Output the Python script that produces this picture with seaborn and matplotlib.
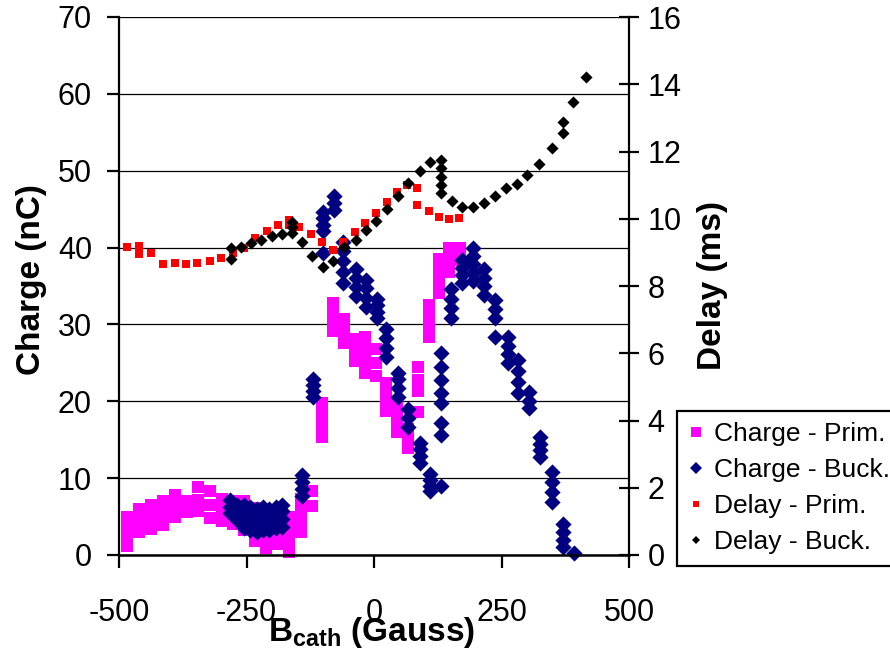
import numpy as np
import pandas as pd
import matplotlib
matplotlib.use("Agg")
import matplotlib.pyplot as plt
from matplotlib.lines import Line2D
import seaborn as sns

# ---------------- data ----------------
# Charge - Prim. (nC) : B values with charge values (several shots per B)
cp_B = ([-484]*4 + [-461]*3 + [-437]*3 + [-414]*3 + [-390]*3 + [-367]*2 + [-345]*3 +
        [-322]*3 + [-298]*3 + [-276]*3 + [-255]*4 + [-233]*4 + [-212]*4 + [-188]*4 +
        [-167]*4 + [-143]*4 + [-122]*2 + [-102]*4 + [-80]*4 + [-59]*3 + [-37]*3 +
        [-18]*4 + [4]*3 + [23]*4 + [45]*4 + [67]*3 + [86]*4 + [108]*4 + [127]*4 +
        [147]*3 + [168]*2)
cp_Q = [1.2, 2.4, 3.7, 4.9,   3.0, 4.5, 6.0,   3.4, 4.9, 6.5,   3.9, 5.4, 7.0,
        4.9, 6.3, 7.8,   5.6, 7.0,   5.7, 7.2, 8.8,   4.8, 6.5, 8.3,   4.4, 5.8, 7.3,
        4.0, 5.5, 7.0,   3.3, 4.5, 5.8, 7.0,   1.8, 3.2, 4.7, 6.1,   0.9, 2.3, 3.6, 5.0,
        1.4, 2.8, 4.1, 5.5,   0.4, 1.9, 3.4, 5.0,   3.0, 4.3, 5.7, 7.3,   6.4, 8.3,
        15.3, 16.8, 18.3, 19.8,   29.1, 30.3, 31.6, 32.8,   27.6, 29.1, 30.7,
        25.2, 26.6, 28.1,   23.7, 25.2, 26.8, 28.3,   23.3, 25.0, 26.8,
        18.7, 19.9, 21.2, 22.4,   16.0, 17.3, 18.5, 19.8,   13.9, 15.2, 16.4,
        18.6, 21.3, 22.8, 24.4,   28.3, 29.7, 31.1, 32.5,   34.1, 35.6, 37.0, 38.5,
        36.8, 38.4, 40.0,   38.4, 40.0]

# Charge - Buck. (nC)
cb_B = ([-283]*3 + [-268]*3 + [-255]*4 + [-243]*4 + [-230]*4 + [-218]*4 + [-205]*4 +
        [-193]*4 + [-180]*4 + [-141]*4 + [-120]*4 + [-100]*5 + [-78]*3 + [-61]*5 +
        [-35]*4 + [-16]*4 + [6]*4 + [24]*4 + [47]*4 + [67]*3 + [90]*4 + [110]*4 +
        [131]*8 + [151]*4 + [172]*4 + [194]*5 + [216]*4 + [237]*4 + [263]*4 +
        [282]*4 + [304]*3 + [325]*4 + [349]*4 + [371]*4 + [392])
cb_Q = [5.5, 6.3, 7.2,   4.5, 5.5, 6.5,   3.5, 4.5, 5.5, 6.5,   3.2, 4.2, 5.2, 6.3,
        3.0, 4.0, 5.0, 6.0,   3.3, 4.3, 5.3, 6.3,   3.2, 4.2, 5.2, 6.0,
        3.5, 4.5, 5.5, 6.3,   3.7, 4.7, 5.7, 6.5,   7.7, 8.6, 9.5, 10.4,
        20.5, 21.3, 22.1, 22.9,   39.3, 42.1, 43.0, 43.8, 44.6,   44.9, 45.8, 46.7,
        35.4, 36.8, 38.2, 39.5, 40.7,   33.7, 34.9, 36.0, 37.2,   32.3, 33.5, 34.7, 35.8,
        30.8, 31.6, 32.5, 33.3,   25.7, 26.9, 28.2, 29.4,   20.5, 21.7, 22.9, 23.7,
        16.6, 17.8, 19.0,   12.0, 12.9, 13.8, 14.6,   8.3, 9.0, 9.7, 10.5,
        9.0, 15.6, 17.2, 19.8, 21.1, 22.8, 24.4, 26.3,   30.8, 32.1, 33.3, 34.6,
        35.4, 36.4, 37.4, 38.4,   35.6, 36.7, 37.8, 38.9, 39.9,   33.8, 35.0, 36.1, 37.2,
        28.3, 30.8, 32.0, 33.2,   25.0, 26.1, 27.2, 28.3,   21.1, 22.5, 24.0, 25.4,
        19.1, 20.1, 21.2,   12.7, 13.6, 14.5, 15.3,   6.9, 8.2, 9.5, 10.8,
        1.0, 2.0, 3.0, 4.0,   0.3]

# Delay - Prim.
dp_B = [-484, -461, -461, -437, -414, -390, -369, -347, -322, -300, -276, -255, -233,
        -210, -188, -167, -167, -147, -124, -102, -80, -61, -37, -18, 4, 25, 45, 65,
        84, 84, 108, 127, 147, 167]
dp_D = [9.16, 9.2, 8.95, 8.98, 8.65, 8.68, 8.65, 8.68, 8.74, 8.83, 8.98, 9.13, 9.43,
        9.64, 9.81, 9.95, 9.8, 9.75, 9.55, 9.31, 9.07, 9.31, 9.61, 9.87, 10.17, 10.5,
        10.8, 11.0, 10.9, 10.4, 10.23, 10.05, 9.99, 10.02]

# Delay - Buck.
db_B = [-280, -280, -261, -241, -222, -200, -180, -161, -161, -161, -141, -122, -100,
        -80, -59, -35, -16, 4, 25, 47, 67, 90, 110, 131, 131, 131, 131, 131, 153, 172,
        194, 216, 237, 258, 280, 300, 324, 349, 371, 371, 390, 416]
db_D = [9.13, 8.8, 9.16, 9.28, 9.37, 9.49, 9.55, 9.9, 9.75, 9.58, 9.31, 8.89, 8.56,
        8.74, 9.16, 9.37, 9.67, 9.93, 10.29, 10.68, 11.06, 11.42, 11.69, 11.75, 11.5,
        11.25, 11.0, 10.77, 10.53, 10.36, 10.35, 10.47, 10.68, 10.91, 11.03, 11.3, 11.63,
        12.1, 12.88, 12.55, 13.47, 14.22]

x_ticks = [-500, -250, 0, 250, 500]
q_ticks = [0, 10, 20, 30, 40, 50, 60, 70]
d_ticks = [0, 2, 4, 6, 8, 10, 12, 14, 16]
labels = ["Charge - Prim.", "Charge - Buck.", "Delay - Prim.", "Delay - Buck."]

# ---------------- style ----------------
sns.set_theme(style="white")
plt.rcParams["font.family"] = ["Liberation Sans", "DejaVu Sans"]
plt.rcParams["mathtext.fontset"] = "custom"
plt.rcParams["mathtext.rm"] = "Liberation Sans"
plt.rcParams["mathtext.bf"] = "Liberation Sans:bold"
for k in ("text.color", "axes.labelcolor", "xtick.color", "ytick.color"):
    plt.rcParams[k] = "black"

MAG, NAVY, RED, BLK = "#FF00FF", "#000080", "#FF0000", "#000000"

fig = plt.figure(figsize=(8.9, 6.48), dpi=100)
ax = fig.add_axes([119/890, 1-555/648, (629-119)/890, (555-17)/648])
ax2 = ax.twinx()

df_cp = pd.DataFrame({"B": cp_B, "Q": cp_Q})
df_cb = pd.DataFrame({"B": cb_B, "Q": cb_Q})
df_dp = pd.DataFrame({"B": dp_B, "D": dp_D})
df_db = pd.DataFrame({"B": db_B, "D": db_D})

sns.scatterplot(data=df_cp, x="B", y="Q", ax=ax, marker="s", s=78, color=MAG,
                linewidth=0, clip_on=False, zorder=3, legend=False)
sns.scatterplot(data=df_cb, x="B", y="Q", ax=ax, marker="D", s=68, color=NAVY,
                linewidth=0, clip_on=False, zorder=4, legend=False)
sns.scatterplot(data=df_dp, x="B", y="D", ax=ax2, marker="s", s=38, color=RED,
                linewidth=0, zorder=3, legend=False)
sns.scatterplot(data=df_db, x="B", y="D", ax=ax2, marker="D", s=38, color=BLK,
                linewidth=0, zorder=4, legend=False)

ax.set_xlim(-500, 500)
ax.set_ylim(0, 70)
ax2.set_ylim(0, 16)
ax.set_xticks(x_ticks)
ax.set_yticks(q_ticks)
ax2.set_yticks(d_ticks)
ax.set_xticklabels([str(v) for v in x_ticks])
ax.set_xlabel("")
ax.set_ylabel("")
ax2.set_ylabel("")

ax.set_axisbelow(True)
ax.yaxis.grid(True, color="black", linewidth=0.9)
ax.xaxis.grid(False)
ax2.grid(False)

for a in (ax, ax2):
    for sp in a.spines.values():
        sp.set_visible(False)
ax.spines["left"].set_visible(True)
ax.spines["left"].set_linewidth(1.6)
ax.spines["left"].set_color("black")
ax.spines["bottom"].set_visible(True)
ax.spines["bottom"].set_linewidth(1.8)
ax.spines["bottom"].set_color("black")
ax.spines["bottom"].set_zorder(5)
ax2.spines["right"].set_visible(True)
ax2.spines["right"].set_linewidth(1.6)
ax2.spines["right"].set_color("black")

ax.tick_params(axis="y", direction="out", length=8.5, width=1.6, color="black",
               labelsize=22, pad=11, left=True, labelcolor="black")
ax.tick_params(axis="x", direction="out", length=9, width=1.6, color="black",
               labelsize=22, pad=22, bottom=True, labelcolor="black")
ax2.tick_params(axis="y", direction="inout", length=15, width=1.6, color="black",
                labelsize=22, pad=6, right=True, labelcolor="black")

fig.text(32/890, 1-280/648, "Charge (nC)", rotation=90, ha="center", va="center",
         fontsize=24, fontweight="bold", color="black")
fig.text(712/890, 1-285/648, "Delay (ms)", rotation=90, ha="center", va="center",
         fontsize=24, fontweight="bold", color="black")
fig.text(372/890, 1-632/648, r"$\mathbf{B_{cath}}$ (Gauss)", ha="center", va="center",
         fontsize=24, fontweight="bold", color="black")

handles = [
    Line2D([], [], linestyle="none", marker="s", markersize=7.5, color=MAG, markeredgewidth=0),
    Line2D([], [], linestyle="none", marker="D", markersize=6.5, color=NAVY, markeredgewidth=0),
    Line2D([], [], linestyle="none", marker="s", markersize=5, color=RED, markeredgewidth=0),
    Line2D([], [], linestyle="none", marker="D", markersize=4.5, color=BLK, markeredgewidth=0),
]
leg = fig.legend(handles, labels, loc="upper left", bbox_to_anchor=(677/890, 1-411/648),
                 frameon=True, fancybox=False, edgecolor="black", fontsize=19,
                 handlelength=0.6, handletextpad=0.4, labelspacing=0.46,
                 borderpad=0.42, borderaxespad=0, framealpha=1)
leg.get_frame().set_linewidth(1.6)

fig.savefig("out.png", dpi=100)
